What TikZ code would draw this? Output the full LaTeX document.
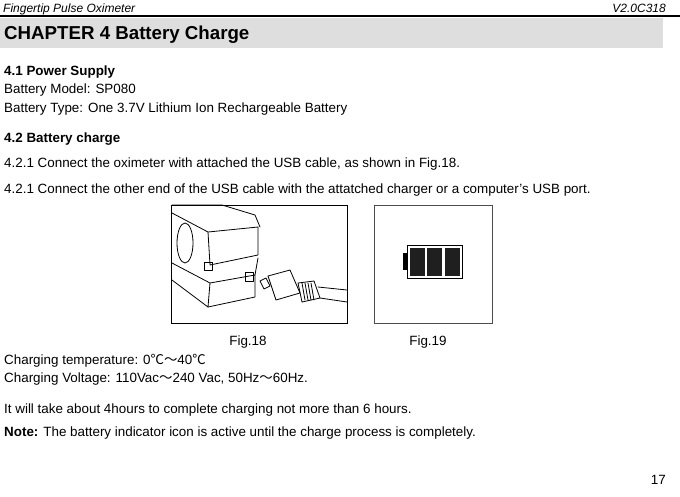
\documentclass[tikz,border=0pt]{standalone}
\usepackage{fontspec}
\setmainfont{Liberation Sans}
\newfontfamily\cjk{Noto Sans CJK SC}
\begin{document}
\begin{tikzpicture}[x=1pt,y=-1pt,
  txt/.style={anchor=base west,inner sep=0,font=\fontsize{13.4}{15}\selectfont},
  sk/.style={line width=0.8pt,line join=round,line cap=round}]
\useasboundingbox (0,0) rectangle (680,496);
\fill[white] (0,0) rectangle (680,496);
\node[txt,font=\fontsize{12}{14}\selectfont\itshape] (h1) at (3,12) {Fingertip Pulse Oximeter};
\node[txt,anchor=base east,font=\fontsize{12}{14}\selectfont\itshape] (h2) at (666,12) {V2.0C318};
\draw[line width=1.2pt] (0,16) -- (680,16);
\fill[black!13] (0,18) rectangle (663,48);
\node[txt,font=\fontsize{18.7}{21}\selectfont\bfseries] (t) at (4,39) {CHAPTER 4 Battery Charge};
\node[txt,font=\fontsize{13.4}{15}\selectfont\bfseries] (s1) at (4,75) {4.1 Power Supply};
\node[txt] (l1) at (4,93) {Battery Model: SP080};
\node[txt] (l2) at (4,112) {Battery Type: One 3.7V Lithium Ion Rechargeable Battery};
\node[txt,font=\fontsize{13.4}{15}\selectfont\bfseries] (s2) at (4,142) {4.2 Battery charge};
\node[txt] (l3) at (4,167) {4.2.1 Connect the oximeter with attached the USB cable, as shown in Fig.18.};
\node[txt] (l4) at (4,193) {4.2.1 Connect the other end of the USB cable with the attatched charger or a computer’s USB port.};
% figure 18
\draw[line width=0.8pt] (171,205) rectangle (347,323);
\draw[sk] (172,205) -- (222,205) -- (255,215) -- (260,227);
\draw[sk] (172,213) -- (208,232) -- (258,227);
\draw[sk] (208,232) -- (210,265) -- (258,255) -- (258,227);
\draw[sk] (185,243) ellipse (8 and 20);
\draw[sk] (204,262) rectangle (212,270);
\draw[sk] (172,263) -- (210,283) -- (255,275) -- (258,258);
\draw[sk] (172,280) -- (208,307) -- (255,297) -- (255,275);
\draw[sk] (210,283) -- (208,307);
\draw[sk] (245,272) rectangle (253,281);
\draw[sk] (260,281) -- (266,278) -- (270,286) -- (264,289) -- cycle;
\draw[sk] (268,276) -- (290,270) -- (300,293) -- (276,300) -- cycle;
\draw[sk] (298,283) -- (314,281) -- (320,298) -- (302,302) -- cycle;
\foreach \i in {0,1,2,3} \draw[sk] (302+3*\i,283) -- (305+3*\i,300);
\draw[sk] (318,287) -- (347,290);
\draw[sk] (320,298) -- (347,302);
% figure 19
\draw[line width=0.6pt,black!70] (374,205) rectangle (492,323);
\fill[black] (403,253) rectangle (407,270);
\draw[line width=1.5pt] (407.5,245.5) rectangle (462.5,278.5);
\foreach \i in {0,1,2} \fill[black!88] (410+17.3*\i,248) rectangle (425+17.3*\i,276);
\node[txt,anchor=base] (f18) at (248,345) {Fig.18};
\node[txt,anchor=base] (f19) at (428,345) {Fig.19};
\node[txt] (l5) at (4,364) {Charging temperature: 0{\cjk ℃～}40{\cjk ℃}};
\node[txt] (l6) at (4,382) {Charging Voltage: 110Vac{\cjk ～}240 Vac, 50Hz{\cjk ～}60Hz.};
\node[txt] (l7) at (4,413) {It will take about 4hours to complete charging not more than 6 hours.};
\node[txt] (l8) at (4,436) {\textbf{Note:} The battery indicator icon is active until the charge process is completely.};
\node[txt,anchor=base east] (pg) at (666,484) {17};
\end{tikzpicture}
\end{document}
